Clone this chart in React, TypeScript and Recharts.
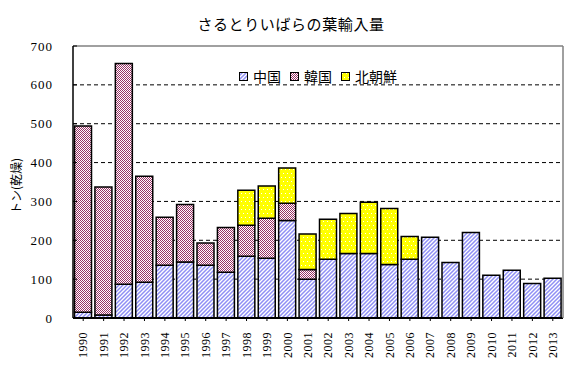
import React from "react";
import {
  BarChart,
  Bar,
  XAxis,
  YAxis,
  CartesianGrid,
  ReferenceLine,
} from "recharts";

const YEARS = [
  "1990", "1991", "1992", "1993", "1994", "1995", "1996", "1997",
  "1998", "1999", "2000", "2001", "2002", "2003", "2004", "2005",
  "2006", "2007", "2008", "2009", "2010", "2011", "2012", "2013",
];
const CHINA = [15, 8, 87, 92, 136, 144, 136, 118, 159, 154, 251, 100, 151, 166, 166, 138, 151, 208, 143, 220, 110, 123, 89, 102];
const KOREA = [479, 329, 568, 273, 123, 148, 57, 115, 80, 103, 44, 25, 0, 0, 0, 0, 0, 0, 0, 0, 0, 0, 0, 0];
const NKOREA = [0, 0, 0, 0, 0, 0, 0, 0, 90, 83, 91, 91, 103, 103, 132, 144, 59, 0, 0, 0, 0, 0, 0, 0];
const Y_TICKS = [0, 100, 200, 300, 400, 500, 600, 700];

const SERIES = [
  { key: "china", name: "中国", fill: "url(#patChina)" },
  { key: "korea", name: "韓国", fill: "url(#patKorea)" },
  { key: "nkorea", name: "北朝鮮", fill: "url(#patNK)" },
];

const data = YEARS.map((year, i) => ({
  year,
  china: CHINA[i],
  korea: KOREA[i],
  nkorea: NKOREA[i],
}));

const Patterns = () => (
  <svg width={0} height={0} style={{ position: "absolute" }}>
    <defs>
      <pattern id="patChina" width={4} height={4} patternUnits="userSpaceOnUse">
        <rect width={4} height={4} fill="#ffffff" />
        <path d="M-1,1 l2,-2 M0,4 l4,-4 M3,5 l2,-2" stroke="#8f8ff5" strokeWidth={1.5} />
      </pattern>
      <pattern id="patKorea" width={2} height={2} patternUnits="userSpaceOnUse">
        <rect width={2} height={2} fill="#ffffff" shapeRendering="crispEdges" />
        <rect x={0} y={0} width={1} height={1} fill="#993366" shapeRendering="crispEdges" />
        <rect x={1} y={1} width={1} height={1} fill="#993366" shapeRendering="crispEdges" />
      </pattern>
      <pattern id="patNK" width={4} height={8} patternUnits="userSpaceOnUse">
        <rect width={4} height={8} fill="#ffff00" shapeRendering="crispEdges" />
        <rect x={1} y={1} width={1} height={1} fill="#ffffff" shapeRendering="crispEdges" />
        <rect x={3} y={5} width={1} height={1} fill="#ffffff" shapeRendering="crispEdges" />
      </pattern>
    </defs>
  </svg>
);

const YearTick = (props: any) => {
  const { x, y, payload } = props;
  const ty = y + 9;
  return (
    <text
      x={x}
      y={ty}
      dy="0.35em"
      transform={`rotate(-90 ${x} ${ty})`}
      textAnchor="end"
      fontFamily="'Liberation Serif', serif"
      fontSize={12}
      letterSpacing={0.5}
      fill="#000"
    >
      {payload.value}
    </text>
  );
};

const LegendBox = () => (
  <div
    style={{
      position: "absolute",
      left: 239,
      top: 66,
      display: "flex",
      alignItems: "center",
      fontFamily: "'Noto Sans CJK JP', sans-serif",
      fontSize: 14,
      color: "#000",
      lineHeight: "20px",
    }}
  >
    {SERIES.map((s) => (
      <span key={s.key} style={{ display: "flex", alignItems: "center", marginRight: 9 }}>
        <svg width={9} height={9} style={{ marginRight: 5 }}>
          <rect x={0.5} y={0.5} width={8} height={8} fill={s.fill} stroke="#000" strokeWidth={1} />
        </svg>
        {s.name}
      </span>
    ))}
  </div>
);

export default function App() {
  return (
    <div style={{ position: "absolute", left: 0, top: 0, width: 578, height: 373, background: "#fff" }}>
      <Patterns />
      <div
        style={{
          position: "absolute",
          left: 0,
          width: 578,
          top: 13,
          textAlign: "center",
          fontFamily: "'Noto Sans CJK JP', sans-serif",
          fontSize: 15,
          letterSpacing: 0.6,
          color: "#000",
          paddingLeft: 2,
        }}
      >
        さるとりいばらの葉輸入量
      </div>
      <svg width={40} height={373} style={{ position: "absolute", left: 0, top: 0 }}>
        <text
          x={17}
          y={186}
          transform="rotate(-90 17 186)"
          textAnchor="middle"
          dy="0.35em"
          fontFamily="'Noto Sans CJK JP', sans-serif"
          fontSize={12}
          fill="#000"
        >
          トン(乾燥)
        </text>
      </svg>
      <BarChart
        width={578}
        height={373}
        data={data}
        margin={{ top: 46, right: 14, bottom: 0, left: 0 }}
        barCategoryGap={1.5}
        style={{ position: "absolute", left: 0, top: 0 }}
      >
        <CartesianGrid
          vertical={false}
          horizontalValues={[100, 200, 300, 400, 500, 600]}
          stroke="#000"
          strokeDasharray="4 3"
        />
        <ReferenceLine y={700} stroke="#808080" strokeWidth={1.5} />
        <XAxis
          dataKey="year"
          height={55}
          interval={0}
          tick={<YearTick />}
          tickLine={{ stroke: "#000" }}
          tickSize={3}
          axisLine={{ stroke: "#000", strokeWidth: 2 }}
        />
        <YAxis
          width={73}
          domain={[0, 700]}
          ticks={Y_TICKS}
          interval={0}
          tickLine={{ stroke: "#000", transform: "translate(4,0)" }}
          tickSize={4}
          axisLine={{ stroke: "#000", strokeWidth: 1.5 }}
          tick={{ fontFamily: "'Liberation Serif', serif", fontSize: 13, fill: "#000", letterSpacing: 1 }}
          tickMargin={16}
        />
        <YAxis
          yAxisId="frame"
          orientation="right"
          width={1}
          tick={false}
          tickLine={false}
          axisLine={{ stroke: "#808080", strokeWidth: 1.5 }}
        />
        {SERIES.map((s) => (
          <Bar
            key={s.key}
            dataKey={s.key}
            name={s.name}
            stackId="a"
            fill={s.fill}
            stroke="#000"
            strokeWidth={1.5}
            isAnimationActive={false}
          />
        ))}
      </BarChart>
      <LegendBox />
    </div>
  );
}
